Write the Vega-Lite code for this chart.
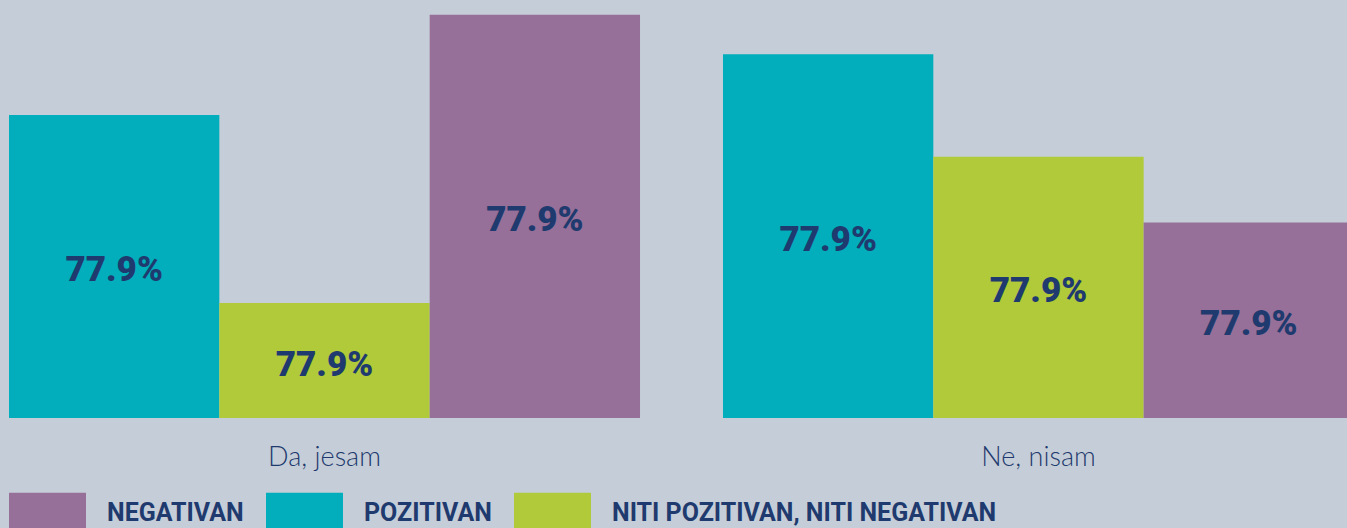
{
  "$schema": "https://vega.github.io/schema/vega-lite/v6.json",
  "width": 1347,
  "height": 418,
  "autosize": {"type": "none"},
  "padding": {"left": 0, "top": 0, "right": 0, "bottom": 110},
  "background": "#c5ced8",
  "config": {"view": {"stroke": null}},
  "data": {
    "values": [
      {"group": "Da, jesam", "category": "POZITIVAN", "pct": 36.9, "label": "77.9%"},
      {"group": "Da, jesam", "category": "NITI POZITIVAN, NITI NEGATIVAN", "pct": 14.0, "label": "77.9%"},
      {"group": "Da, jesam", "category": "NEGATIVAN", "pct": 49.1, "label": "77.9%"},
      {"group": "Ne, nisam", "category": "POZITIVAN", "pct": 44.3, "label": "77.9%"},
      {"group": "Ne, nisam", "category": "NITI POZITIVAN, NITI NEGATIVAN", "pct": 31.8, "label": "77.9%"},
      {"group": "Ne, nisam", "category": "NEGATIVAN", "pct": 23.8, "label": "77.9%"}
    ]
  },
  "encoding": {
    "x": {
      "field": "group",
      "type": "nominal",
      "sort": ["Da, jesam", "Ne, nisam"],
      "scale": {"range": [0, 1363], "paddingInner": 0.1162, "paddingOuter": 0.0126},
      "axis": {
        "title": null,
        "domain": false,
        "ticks": false,
        "tickSize": 0,
        "grid": false,
        "labelAngle": 0,
        "labelFont": "Lato",
        "labelFontWeight": 300,
        "labelFontSize": 27,
        "labelColor": "#1f3a6e",
        "labelBaseline": "alphabetic",
        "labelPadding": 47
      }
    },
    "xOffset": {
      "field": "category",
      "type": "nominal",
      "sort": ["POZITIVAN", "NITI POZITIVAN, NITI NEGATIVAN", "NEGATIVAN"],
      "scale": {"paddingInner": 0, "paddingOuter": 0}
    }
  },
  "layer": [
    {
      "mark": {"type": "bar"},
      "encoding": {
        "y": {"field": "pct", "type": "quantitative", "scale": {"domain": [0, 50.9], "nice": false, "zero": true}, "axis": null},
        "color": {
          "field": "category",
          "type": "nominal",
          "scale": {
            "domain": ["NEGATIVAN", "POZITIVAN", "NITI POZITIVAN, NITI NEGATIVAN"],
            "range": ["#967098", "#02aebb", "#b0ca3a"]
          },
          "legend": {
            "title": null,
            "orient": "none",
            "direction": "horizontal",
            "legendX": 9,
            "legendY": 474,
            "symbolType": "M-1,-0.52H1V0.52H-1Z",
            "symbolSize": 5929,
            "symbolStrokeWidth": 0,
            "symbolOpacity": 1,
            "labelFont": "Roboto",
            "labelFontWeight": "bold",
            "labelFontSize": 25,
            "labelColor": "#1f3a6e",
            "labelOffset": 21,
            "labelLimit": 0,
            "columnPadding": 22
          }
        }
      }
    },
    {
      "mark": {"type": "text", "font": "Roboto", "fontWeight": 900, "fontSize": 35, "color": "#1f3a6e", "baseline": "middle", "align": "center", "dy": 4},
      "encoding": {
        "y": {"field": "pct", "type": "quantitative", "scale": {"domain": [0, 101.8], "nice": false, "zero": true}, "axis": null},
        "text": {"field": "label"}
      }
    }
  ],
  "resolve": {"scale": {"y": "independent"}}
}
